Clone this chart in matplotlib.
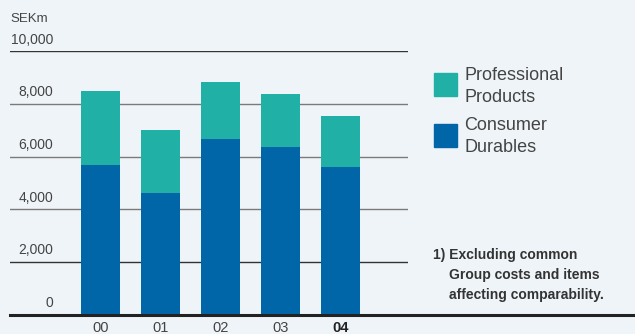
import matplotlib
matplotlib.use("Agg")
import matplotlib.pyplot as plt
from matplotlib.lines import Line2D
from matplotlib.patches import Rectangle

plt.rcParams['font.family'] = ['Liberation Sans', 'DejaVu Sans']

years = ["00", "01", "02", "03", "04"]
consumer_durables = [5680, 4620, 6670, 6370, 5610]
professional_products = [2820, 2400, 2170, 2010, 1940]
y_ticks = [0, 2000, 4000, 6000, 8000, 10000]
y_tick_labels = ["0", "2,000", "4,000", "6,000", "8,000", "10,000"]

BG = "#eff4f8"
TEAL = "#20b0a5"
BLUE = "#0066a8"
TEXT = "#444444"

W, H = 635, 334
fig = plt.figure(figsize=(W / 100, H / 100), dpi=100, facecolor=BG)

# axes spanning the plot region (pixel-based placement)
x0, x1 = 10, 408
y_zero, y_top = 314.5, 51.5
ax = fig.add_axes([x0 / W, (H - y_zero) / H, (x1 - x0) / W, (y_zero - y_top) / H])
ax.set_facecolor(BG)
ax.set_ylim(0, 10000)
ax.set_xlim((x0 - 100.5) / 60, (x1 - 100.5) / 60)
for s in ax.spines.values():
    s.set_visible(False)
ax.set_xticks([])
ax.set_yticks([])

# horizontal gridlines
grid_colors = {2000: "#333333", 4000: "#7a7a7a", 6000: "#7a7a7a",
               8000: "#7a7a7a", 10000: "#333333"}
for v in y_ticks[1:]:
    ax.axhline(v, color=grid_colors[v], lw=1.0, zorder=1)

xs = list(range(len(years)))
ax.bar(xs, consumer_durables, width=0.65, color=BLUE, zorder=2)
ax.bar(xs, professional_products, width=0.65, bottom=consumer_durables,
       color=TEAL, zorder=2)

# y tick labels sitting above each gridline
label_x = (53 - x0) / (x1 - x0)
for v, lab in zip(y_ticks, y_tick_labels):
    ax.text(label_x, v + 180, lab, transform=ax.get_yaxis_transform(),
            ha="right", va="bottom", fontsize=10, color=TEXT)

fig.text(10 / W, 1 - 19 / H, "SEKm", ha="left", va="center", fontsize=9.5, color=TEXT)

# x labels
for i, yr in enumerate(years):
    ax.text(i, -520, yr, ha="center", va="center", fontsize=10.5,
            color="#222222" if yr == "04" else TEXT,
            fontweight="bold" if yr == "04" else "normal", clip_on=False)

# thick baseline running to the right edge
fig.add_artist(Line2D([x0 / W, 1.0], [(H - 314.5) / H] * 2, color="#222222", lw=2.2))

# legend
def legend_entry(y_top_px, color, lines):
    fig.add_artist(Rectangle((434 / W, (H - y_top_px - 23) / H), 23 / W, 23 / H,
                             transform=fig.transFigure, color=color))
    for k, t in enumerate(lines):
        fig.text(464 / W, 1 - (y_top_px + 2 + 22 * k) / H, t, ha="left", va="center",
                 fontsize=13, color=TEXT)

legend_entry(73, TEAL, ["Professional", "Products"])
legend_entry(124, BLUE, ["Consumer", "Durables"])

# footnote
foot = dict(ha="left", va="center", fontsize=10, fontweight="bold", color="#333333")
fig.text(433 / W, 1 - 255 / H, "1) Excluding common", **foot)
fig.text(449 / W, 1 - 275 / H, "Group costs and items", **foot)
fig.text(449 / W, 1 - 295 / H, "affecting comparability.", **foot)

fig.savefig("out.png", dpi=100, facecolor=BG)
